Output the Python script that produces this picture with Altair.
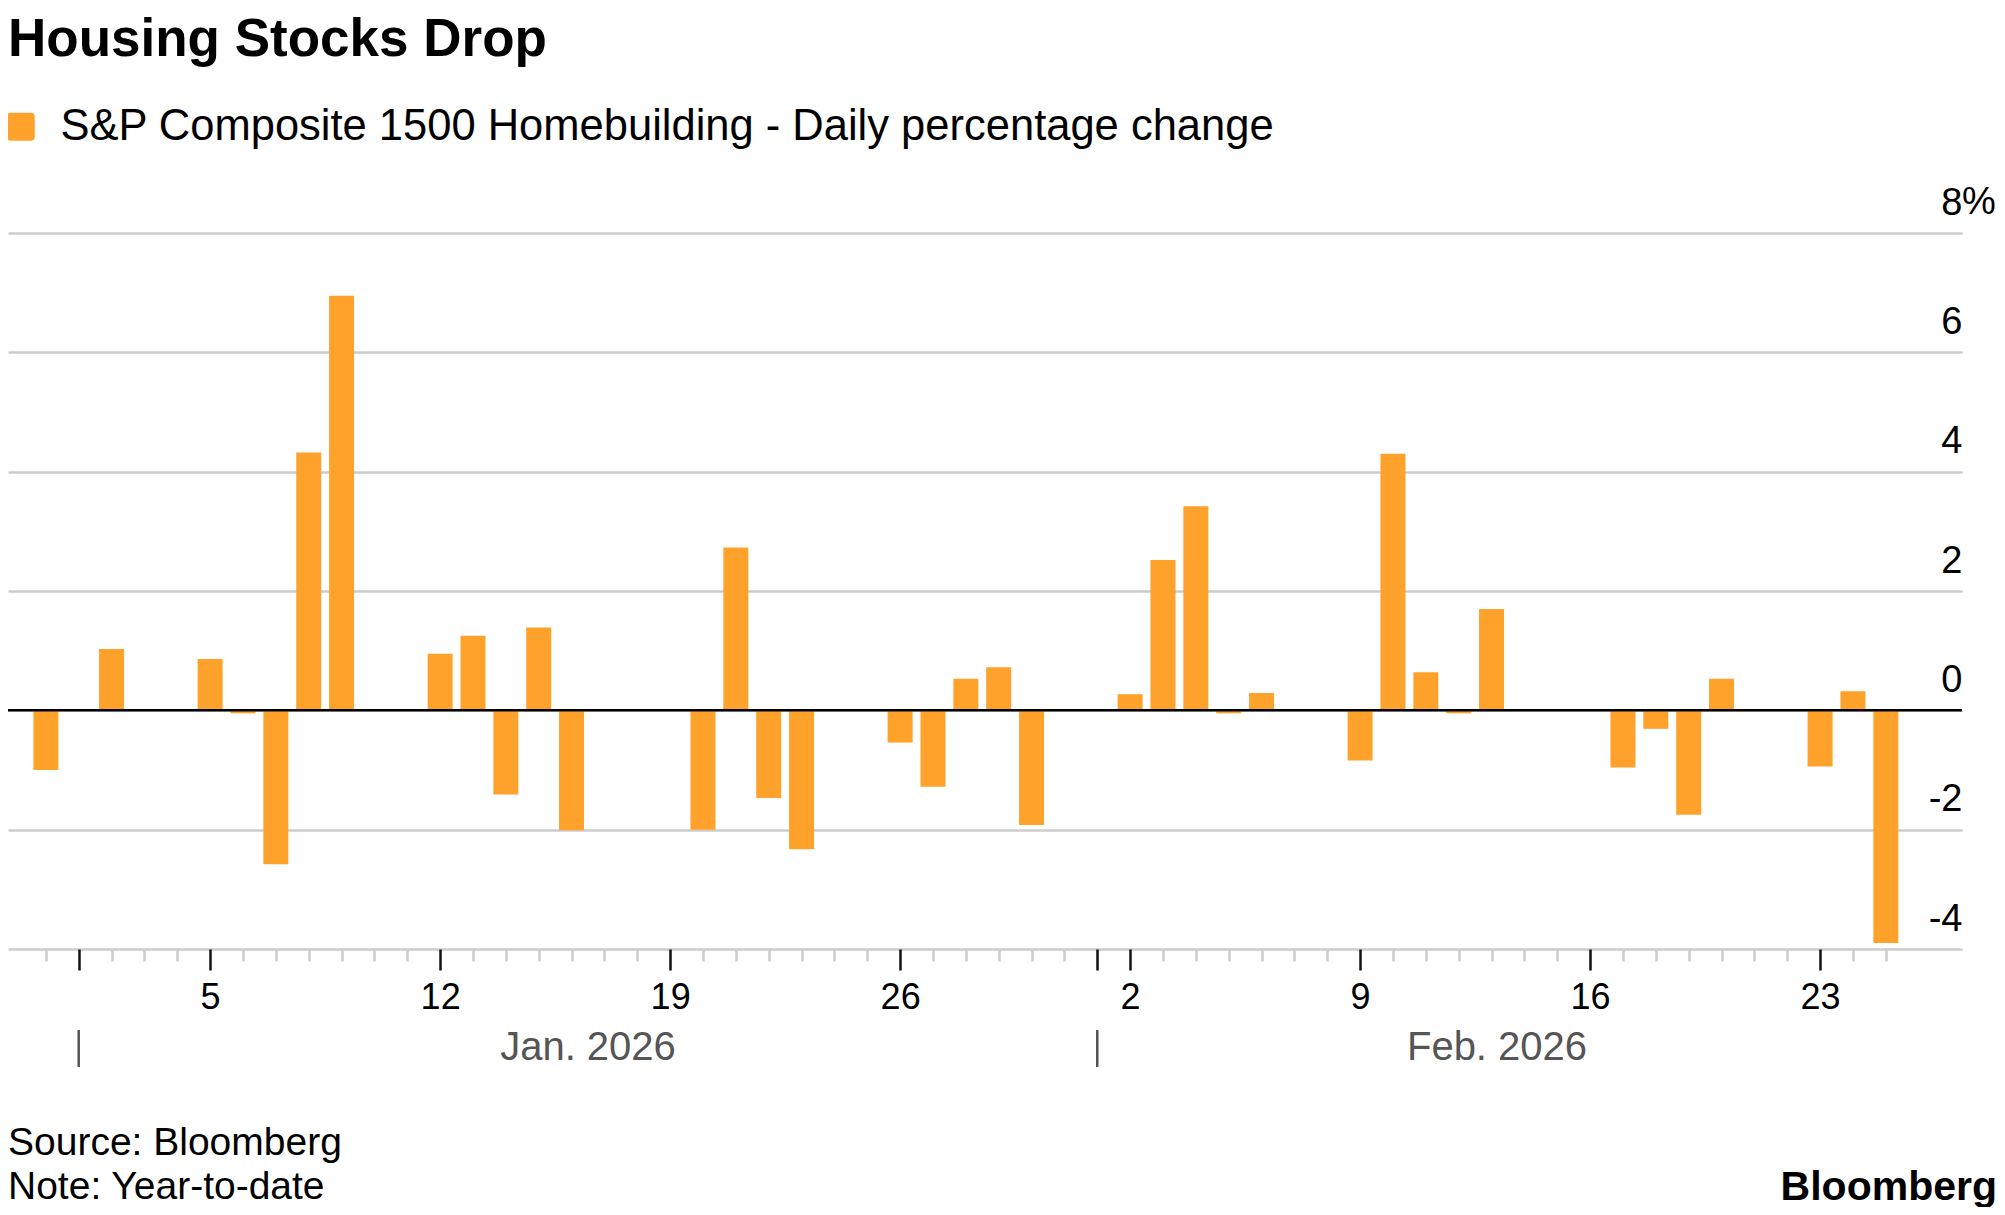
import altair as alt
import pandas as pd

# ---------------- data ----------------
dates = [
    "2025-12-31", "2026-01-02", "2026-01-05", "2026-01-06", "2026-01-07",
    "2026-01-08", "2026-01-09", "2026-01-12", "2026-01-13", "2026-01-14",
    "2026-01-15", "2026-01-16", "2026-01-20", "2026-01-21", "2026-01-22",
    "2026-01-23", "2026-01-26", "2026-01-27", "2026-01-28", "2026-01-29",
    "2026-01-30", "2026-02-02", "2026-02-03", "2026-02-04", "2026-02-05",
    "2026-02-06", "2026-02-09", "2026-02-10", "2026-02-11", "2026-02-12",
    "2026-02-13", "2026-02-17", "2026-02-18", "2026-02-19", "2026-02-20",
    "2026-02-23", "2026-02-24", "2026-02-25",
]
values = [
    -1.00, 1.03, 0.86, -0.05, -2.58,
    4.32, 6.95, 0.95, 1.25, -1.41,
    1.39, -2.01, -2.00, 2.73, -1.47,
    -2.33, -0.54, -1.28, 0.53, 0.72,
    -1.92, 0.27, 2.52, 3.42, -0.05,
    0.29, -0.84, 4.30, 0.64, -0.05,
    1.70, -0.96, -0.31, -1.75, 0.53,
    -0.94, 0.32, -3.90,
]
series_name = "S&P Composite 1500 Homebuilding - Daily percentage change"
y_ticks = [-4, -2, 0, 2, 4, 6, 8]
y_unit = ["%"]
month_starts = ["2026-01-01", "2026-02-01"]
month_label_dates = ["2026-01-16T12:00:00Z", "2026-02-13T04:00:00Z"]
month_labels = ["Jan. 2026", "Feb. 2026"]
title_text = ["Housing Stocks Drop"]
source_text = ["Source: Bloomberg"]
note_text = ["Note: Year-to-date"]
brand_text = ["Bloomberg"]

# ---------------- styling ----------------
W, H = 1954, 716
FONT = "Liberation Sans"
ORANGE = "#FFA22B"
GRID = "#cccccc"
MAJOR = "(utcday(datum.value) == 1) || (utcdate(datum.value) == 1)"

tick_ms = [int(t.value // 10**6) for t in
           pd.date_range("2025-12-31", "2026-02-25", freq="D", tz="UTC")]

x_scale = alt.Scale(
    type="utc",
    domain=[alt.DateTime(year=2025, month=12, date=30, utc=True),
            alt.DateTime(year=2026, month=2, date=27, hours=4, utc=True)],
)
y_scale = alt.Scale(domain=[-4, 8], nice=False)

x_axis = alt.Axis(
    values=tick_ms, tickCount=500, title=None, domain=False, grid=False,
    labelExpr="utcday(datum.value) == 1 ? utcFormat(datum.value, '%-d') : ''",
    tickSize={"condition": {"test": MAJOR, "value": 21}, "value": 12},
    tickColor={"condition": {"test": MAJOR, "value": "#111111"}, "value": GRID},
    tickWidth=2.5,
    labelFont=FONT, labelFontSize=36, labelColor="#000000",
    labelBaseline="alphabetic", labelPadding=38,
    labelFlush=False, labelOverlap=False, labelBound=False,
)
y_axis = alt.Axis(
    values=y_ticks, orient="right", title=None, domain=False,
    ticks=False, tickSize=0, grid=True, gridColor=GRID, gridWidth=2.5,
    labelAlign="right", labelBaseline="alphabetic", labelOffset=-19,
    labelPadding=0, labelFont=FONT, labelFontSize=38,
    labelColor="#000000", labelExpr="'' + datum.value",
    labelFlush=False, labelOverlap=False, labelBound=False,
)

df = pd.DataFrame({"date": dates, "value": values, "series": series_name})

legend_path = ("M -0.72,-1 L 0.72,-1 Q 1,-1 1,-0.72 L 1,0.72 Q 1,1 0.72,1 "
               "L -0.72,1 Q -1,1 -1,0.72 L -1,-0.72 Q -1,-1 -0.72,-1 Z")

bars = alt.Chart(df).mark_bar(size=25).encode(
    x=alt.X("date:T", scale=x_scale, axis=x_axis),
    y=alt.Y("value:Q", scale=y_scale, axis=y_axis),
    color=alt.Color(
        "series:N",
        scale=alt.Scale(domain=[series_name], range=[ORANGE]),
        legend=alt.Legend(
            title=None, orient="none", legendX=-9, legendY=-128,
            symbolType=legend_path, symbolSize=784, symbolStrokeWidth=0,
            symbolFillColor=ORANGE, padding=0,
            labelFont=FONT, labelFontSize=43.5, labelColor="#000000",
            labelOffset=18, labelLimit=0,
        ),
    ),
)

zero = alt.Chart(pd.DataFrame({"v": [0]})).mark_rule(
    color="#000000", strokeWidth=2.5
).encode(y=alt.Y("v:Q", scale=y_scale, axis=y_axis))

pct = alt.Chart(pd.DataFrame({"v": [8], "t": y_unit})).mark_text(
    align="left", baseline="alphabetic", dy=-19, font=FONT, fontSize=38,
    color="#000000"
).encode(y=alt.Y("v:Q", scale=y_scale, axis=y_axis), x=alt.value(W), text="t:N")

seps = alt.Chart(pd.DataFrame({"date": month_starts})).mark_rule(
    color="#555555", strokeWidth=2.5
).encode(x=alt.X("date:T", scale=x_scale, axis=x_axis),
         y=alt.value(797), y2=alt.value(834))

months = alt.Chart(pd.DataFrame({"date": month_label_dates, "t": month_labels})).mark_text(
    align="center", baseline="alphabetic", font=FONT, fontSize=40, color="#555555"
).encode(x=alt.X("date:T", scale=x_scale, axis=x_axis), y=alt.value(827), text="t:N")

title = alt.Chart(pd.DataFrame({"t": title_text})).mark_text(
    align="left", baseline="alphabetic", font=FONT, fontSize=53,
    fontWeight="bold", color="#000000"
).encode(x=alt.value(0), y=alt.value(-177), text="t:N")

source = alt.Chart(pd.DataFrame({"t": source_text})).mark_text(
    align="left", baseline="alphabetic", font=FONT, fontSize=39, color="#000000"
).encode(x=alt.value(0), y=alt.value(922), text="t:N")

note = alt.Chart(pd.DataFrame({"t": note_text})).mark_text(
    align="left", baseline="alphabetic", font=FONT, fontSize=39, color="#000000"
).encode(x=alt.value(0), y=alt.value(966), text="t:N")

brand = alt.Chart(pd.DataFrame({"t": brand_text})).mark_text(
    align="right", baseline="alphabetic", font=FONT, fontSize=41,
    fontWeight="bold", color="#000000"
).encode(x=alt.value(1989), y=alt.value(967), text="t:N")

chart = alt.layer(
    bars, zero, pct, seps, months, title, source, note, brand
).properties(
    width=W, height=H,
    background="#ffffff",
    autosize=alt.AutoSizeParams(type="none"),
    padding={"left": 0, "top": 225, "right": 35, "bottom": 258},
).configure_view(stroke=None, strokeWidth=0)

chart.save("out.html", embed_options={"renderer": "svg", "actions": False})
